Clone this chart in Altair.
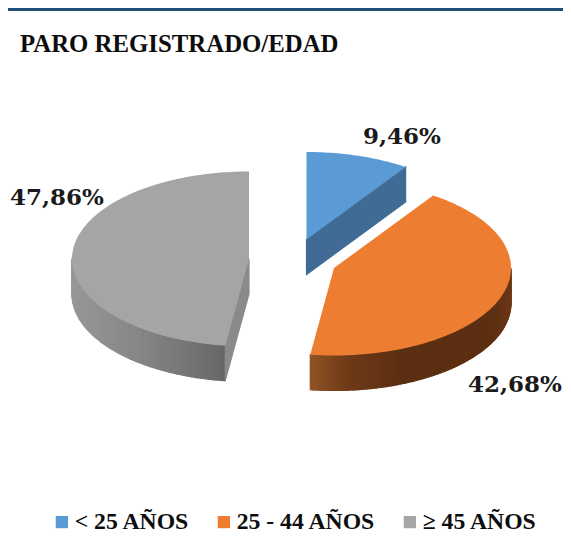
import math
import altair as alt

categories = ["< 25 AÑOS", "25 - 44 AÑOS", "≥ 45 AÑOS"]
shares = [9.46, 42.68, 47.86]
colors = ["#5b9bd5", "#ed7d31", "#a5a5a5"]
TITLE = "PARO REGISTRADO/EDAD"

# page origin offset of the svg
OFF = 8
RX, RY, DEPTH = 177, 87.5, 35
CENTERS = [(306.5, 239.5), (334, 268), (249, 259)]
LABEL_POS = [(363, 136.5), (468, 385), (10, 197.5)]

W, H = 555, 535


def pt(c, deg, r=1.0, dy=0.0):
    a = math.radians(deg)
    return [c[0] + RX * r * math.sin(a) - OFF, c[1] - RY * r * math.cos(a) + dy - OFF]


def feature(ring, **props):
    return {"type": "Feature", "properties": props,
            "geometry": {"type": "Polygon", "coordinates": [ring + [ring[0]]]}}


def mix(stops, t):
    t = max(0.0, min(1.0, t))
    for (t0, c0), (t1, c1) in zip(stops, stops[1:]):
        if t <= t1:
            f = (t - t0) / (t1 - t0) if t1 > t0 else 0
            return "#%02x%02x%02x" % tuple(round(a + (b - a) * f) for a, b in zip(c0, c1))
    return "#%02x%02x%02x" % tuple(stops[-1][1])


# slice angles, clockwise from 12 o'clock
bounds = [0.0]
for s in shares:
    bounds.append(bounds[-1] + s * 360 / sum(shares))

tops, walls = [], []
for i, cat in enumerate(categories):
    c = CENTERS[i]
    a0, a1 = bounds[i], bounds[i + 1]
    n = max(8, int(a1 - a0))
    ring = [[c[0] - OFF, c[1] - OFF]] + [pt(c, a0 + (a1 - a0) * k / n) for k in range(n + 1)]
    tops.append(feature(ring, label=cat))

# blue: cut face towards the viewer
c, a = CENTERS[0], bounds[1]
apex = [c[0] - OFF, c[1] - OFF]
walls.append(feature([apex, pt(c, a), pt(c, a, dy=DEPTH), [apex[0], apex[1] + DEPTH]], fill="#3f6b94"))

# orange: outer rim, shaded along x
ORANGE = [(0.0, (0x8f, 0x52, 0x24)), (0.18, (0x6e, 0x39, 0x18)), (0.45, (0x5c, 0x2f, 0x12)),
          (0.9, (0x5c, 0x2f, 0x12)), (1.0, (0x6c, 0x38, 0x17))]
c = CENTERS[1]
for d in range(int(bounds[2]), 89, -1):
    a0, a1 = d, min(d + 1, bounds[2])
    p0, p1 = pt(c, a0), pt(c, a1)
    col = mix(ORANGE, (p1[0] + OFF - 311) / 201)
    walls.append(feature([p0, p1, pt(c, a1, dy=DEPTH), pt(c, a0, dy=DEPTH)], fill=col))

# gray: outer rim and cut face
GRAY = [(0.0, (0x97, 0x97, 0x97)), (0.5, (0x83, 0x83, 0x83)), (1.0, (0x66, 0x66, 0x66))]
c = CENTERS[2]
for d in range(int(bounds[2]), 271):
    a0, a1 = max(d, bounds[2]), d + 1
    p0, p1 = pt(c, a0), pt(c, a1)
    col = mix(GRAY, (p1[0] + OFF - 72) / 152)
    walls.append(feature([p0, p1, pt(c, a1, dy=DEPTH), pt(c, a0, dy=DEPTH)], fill=col))
apex = [c[0] - OFF, c[1] - OFF]
a = bounds[2]
walls.append(feature([apex, pt(c, a), pt(c, a, dy=DEPTH), [apex[0], apex[1] + DEPTH]], fill="#8a8a8a"))

proj = dict(type="identity", scale=1, translate=[0, 0])

wall_layer = alt.Chart(alt.Data(values=walls)).mark_geoshape(strokeWidth=1.2).encode(
    fill=alt.Fill("properties.fill:N", scale=None),
    stroke=alt.Stroke("properties.fill:N", scale=None),
).project(**proj)

top_layer = alt.Chart(alt.Data(values=tops)).mark_geoshape(strokeWidth=0).encode(
    fill=alt.Fill(
        "properties.label:N",
        scale=alt.Scale(domain=categories, range=colors),
        sort=categories,
        legend=alt.Legend(
            title=None, orient="none", legendX=42, legendY=502, direction="horizontal",
            symbolType="square", symbolSize=150, symbolStrokeWidth=0, symbolOpacity=1,
            labelFont="Liberation Serif", labelFontWeight="bold", labelFontSize=23.7,
            labelColor="#0d0d0d", labelLimit=300, labelOffset=1, columnPadding=22,
            padding=0,
        ),
    ),
).project(**proj)

frame = alt.Chart(alt.Data(values=[{"a": 0}])).mark_rule(color="#1f4e79", strokeWidth=3).encode(
    x=alt.value(0), x2=alt.value(W + 8), y=alt.value(1.5)
)

label_layers = []
for s, (x, y) in zip(shares, LABEL_POS):
    txt = f"{s:.2f}%".replace(".", ",")
    label_layers.append(
        alt.Chart(alt.Data(values=[{"a": 0}])).mark_text(
            text=txt, font="DejaVu Serif", fontWeight="bold", fontSize=23,
            color="#1a1a1a", align="left", baseline="middle",
        ).encode(x=alt.value(x - OFF), y=alt.value(y - OFF))
    )

chart = alt.layer(frame, wall_layer, top_layer, *label_layers).properties(
    width=W, height=H, padding=0,
    autosize=alt.AutoSizeParams(type="none"),
    title=alt.TitleParams(
        TITLE, anchor="start", frame="group", orient="top", offset=0, dx=12, dy=48.5,
        font="Liberation Serif", fontWeight="bold", fontSize=24.8, color="#0d0d0d",
    ),
).configure_view(stroke=None)

chart.save("out.html", embed_options={"renderer": "svg", "actions": False})
